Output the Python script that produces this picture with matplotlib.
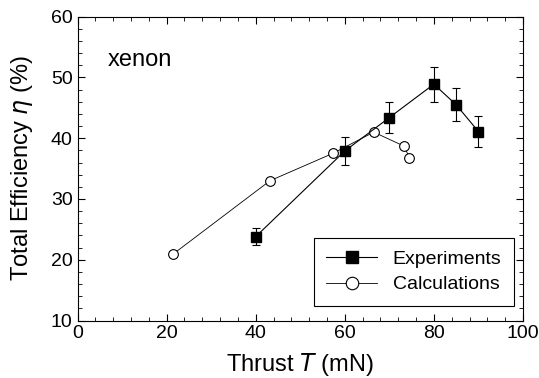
import matplotlib.pyplot as plt
from matplotlib.ticker import MultipleLocator
from matplotlib.lines import Line2D

plt.rcParams['font.family'] = ['Liberation Sans', 'DejaVu Sans']

exp_thrust = [40.0, 60.0, 70.0, 80.0, 85.0, 90.0]
exp_eff = [23.8, 37.9, 43.4, 48.9, 45.5, 41.1]
exp_err = [1.4, 2.3, 2.5, 2.9, 2.7, 2.5]

calc_thrust = [21.4, 43.2, 57.3, 66.5, 73.3, 74.5]
calc_eff = [20.9, 33.0, 37.5, 41.0, 38.7, 36.8]

fig = plt.figure(figsize=(5.39, 3.78), dpi=100)
ax = fig.add_axes([0.1438, 0.1521, 0.8265, 0.8037])

ax.errorbar(exp_thrust, exp_eff, yerr=exp_err, color='black', lw=0.8,
            marker='s', ms=6.5, mfc='black', mec='black', elinewidth=0.8,
            capsize=3, capthick=0.8)
ax.plot(calc_thrust, calc_eff, color='black', lw=0.6, marker='o', ms=7,
        mfc='white', mec='black', mew=0.8)

ax.set_xlim(0, 100)
ax.set_ylim(10, 60)
ax.xaxis.set_major_locator(MultipleLocator(20))
ax.xaxis.set_minor_locator(MultipleLocator(4))
ax.yaxis.set_major_locator(MultipleLocator(10))
ax.yaxis.set_minor_locator(MultipleLocator(2))
ax.tick_params(which='both', direction='in', top=True, right=True, labelsize=14)
ax.tick_params(which='major', length=5)
ax.tick_params(which='minor', length=3)

ax.set_xlabel('Thrust $\\mathit{T}$ (mN)', fontsize=17, labelpad=6)
ax.set_ylabel('Total Efficiency $\\mathit{\\eta}$ (%)', fontsize=17, labelpad=11)
ax.text(6.8, 51.9, 'xenon', fontsize=17, va='baseline')

handles = [
    Line2D([], [], color='black', lw=0.8, marker='s', ms=9, mfc='black'),
    Line2D([], [], color='black', lw=0.6, marker='o', ms=9, mfc='white', mew=0.8),
]
leg = ax.legend(handles, ['Experiments', 'Calculations'], loc='lower right',
                bbox_to_anchor=(0.9798, 0.0477), borderaxespad=0,
                fontsize=14, frameon=True, fancybox=False, edgecolor='black',
                handlelength=2.6, borderpad=0.65, labelspacing=0.4,
                framealpha=1)
leg.get_frame().set_linewidth(0.8)

fig.savefig('out.png', dpi=100)
